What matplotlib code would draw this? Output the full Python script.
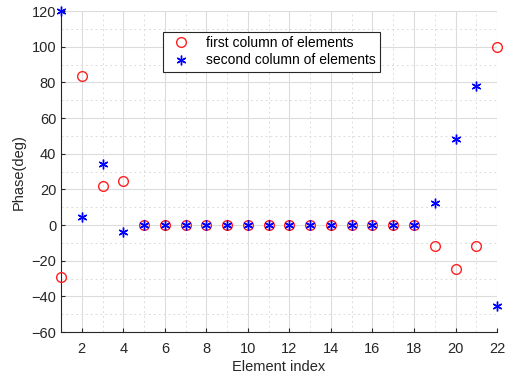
import matplotlib
matplotlib.use('Agg')
import matplotlib.pyplot as plt
from matplotlib.ticker import MultipleLocator

plt.rcParams['font.family'] = ['Liberation Sans', 'DejaVu Sans']

# Element index and phase values (degrees)
element_index = list(range(1, 23))
first_column = [-29, 83.5, 22, 24.5, 0, 0, 0, 0, 0, 0, 0, 0, 0, 0, 0, 0, 0, 0,
                -12, -24.5, -12, 100]
second_column = [120, 4.5, 34, -4, 0, 0, 0, 0, 0, 0, 0, 0, 0, 0, 0, 0, 0, 0,
                 12.5, 48, 78, -45.5]

fig = plt.figure(figsize=(5.06, 3.8), dpi=100)
ax = fig.add_axes([0.1206, 0.126, 0.8617, 0.845])

ax.plot(element_index, first_column, 'o', color='#ff2020', markerfacecolor='none',
        markersize=7, markeredgewidth=1.0, label='first column of elements',
        clip_on=False, zorder=3)
ax.plot(element_index, second_column, linestyle='none', marker=(6, 2, 0),
        color='blue', markersize=7, markeredgewidth=1.0,
        label='second column of elements', clip_on=False, zorder=4)

ax.set_xlim(1, 22)
ax.set_ylim(-60, 120)
ax.xaxis.set_major_locator(MultipleLocator(2))
ax.xaxis.set_minor_locator(MultipleLocator(1))
ax.yaxis.set_major_locator(MultipleLocator(20))
ax.yaxis.set_minor_locator(MultipleLocator(10))

ax.grid(which='major', color='#dcdcdc', linewidth=0.8, linestyle='-')
ax.grid(which='minor', color='#dcdcdc', linewidth=0.7, linestyle=(0, (2, 3)))
ax.set_axisbelow(True)

for s in ['top', 'right']:
    ax.spines[s].set_visible(False)
for s in ['left', 'bottom']:
    ax.spines[s].set_color('#262626')
    ax.spines[s].set_linewidth(0.8)

ax.tick_params(which='both', direction='in', colors='#262626', labelsize=10.5,
               length=3)
ax.tick_params(which='minor', length=0)
ax.tick_params(axis='x', pad=7)

ax.set_xlabel('Element index', fontsize=10.5, color='#262626', labelpad=3)
ax.set_ylabel('Phase(deg)', fontsize=10.5, color='#262626', labelpad=4)

leg = ax.legend(loc='upper left', bbox_to_anchor=(0.218, 0.957), fontsize=10,
                frameon=True, fancybox=False, edgecolor='#262626',
                framealpha=1, borderpad=0.3, handletextpad=0.8,
                labelspacing=0.25)
leg.get_frame().set_linewidth(0.8)

fig.savefig('out.png', dpi=100)
